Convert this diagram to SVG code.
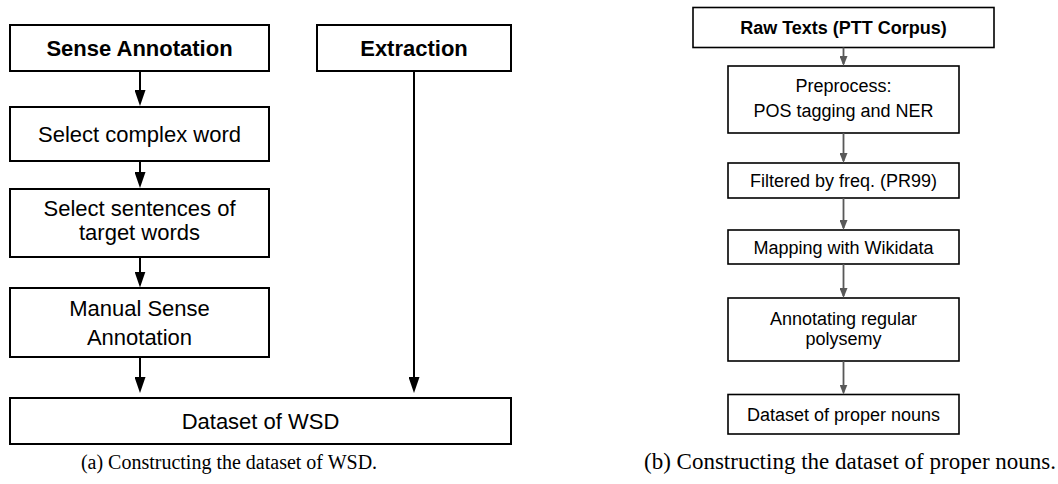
<svg xmlns="http://www.w3.org/2000/svg" width="1058" height="484" viewBox="0 0 1058 484">
<style>
  .box { fill: #ffffff; stroke: #000000; stroke-width: 2; }
  .boxb { fill: #ffffff; stroke: #000000; stroke-width: 1.6; }
  .lt { font-family: "Liberation Sans", Arial, sans-serif; font-size: 22px; fill: #000000; text-anchor: middle; }
  .rt { font-family: "Liberation Sans", Arial, sans-serif; font-size: 18px; fill: #000000; text-anchor: middle; }
  .bold { font-weight: bold; }
  .cap { font-family: "Liberation Serif", "Times New Roman", serif; fill: #000000; }
  .edgeA { stroke: #000000; stroke-width: 2; fill: none; marker-end: url(#headA); }
  .edgeB { stroke: #595959; stroke-width: 1.8; fill: none; marker-end: url(#headB); }
</style>
<defs>
  <marker id="headA" viewBox="0 0 16 11" refX="13" refY="5.5" markerWidth="16" markerHeight="11" markerUnits="userSpaceOnUse" orient="auto">
    <path d="M0,0 L16,5.5 L0,11 z" fill="#000000"/>
  </marker>
  <marker id="headB" viewBox="0 0 10 8" refX="8" refY="4" markerWidth="10" markerHeight="8" markerUnits="userSpaceOnUse" orient="auto">
    <path d="M0,0 L10,4 L0,8 z" fill="#595959"/>
  </marker>
</defs>
<rect width="1058" height="484" fill="#ffffff"/>

<!-- (a) left panel -->
<g id="sense-annotation">
  <rect class="box" x="10" y="25" width="259" height="46"/>
  <text class="lt bold" x="139.5" y="56">Sense Annotation</text>
</g>
<g id="extraction">
  <rect class="box" x="317" y="25" width="194" height="46"/>
  <text class="lt bold" x="414" y="56">Extraction</text>
</g>
<g id="select-complex-word">
  <rect class="box" x="10" y="107" width="259" height="54"/>
  <text class="lt" x="139.5" y="142">Select complex word</text>
</g>
<g id="select-sentences">
  <rect class="box" x="10" y="189" width="259" height="68"/>
  <text class="lt" x="139.5" y="216">Select sentences of</text>
  <text class="lt" x="139.5" y="240">target words</text>
</g>
<g id="manual-sense-annotation">
  <rect class="box" x="10" y="288" width="259" height="69"/>
  <text class="lt" x="139.5" y="316">Manual Sense</text>
  <text class="lt" x="139.5" y="345">Annotation</text>
</g>
<g id="dataset-wsd">
  <rect class="box" x="10" y="398" width="501" height="46"/>
  <text class="lt" x="260.5" y="429">Dataset of WSD</text>
</g>

<!-- (b) right panel -->
<g id="raw-texts">
  <rect class="boxb" x="693" y="7.5" width="301" height="40"/>
  <text class="rt bold" x="843.5" y="34">Raw Texts (PTT Corpus)</text>
</g>
<g id="preprocess">
  <rect class="boxb" x="728" y="66" width="231" height="67"/>
  <text class="rt" x="843.5" y="92">Preprocess:</text>
  <text class="rt" x="843.5" y="116.5">POS tagging and NER</text>
</g>
<g id="filtered">
  <rect class="boxb" x="728" y="163" width="231" height="35"/>
  <text class="rt" x="843.5" y="187">Filtered by freq. (PR99)</text>
</g>
<g id="mapping">
  <rect class="boxb" x="728" y="230" width="231" height="34"/>
  <text class="rt" x="843.5" y="253.5">Mapping with Wikidata</text>
</g>
<g id="annotating">
  <rect class="boxb" x="728" y="298" width="231" height="63"/>
  <text class="rt" x="843.5" y="325">Annotating regular</text>
  <text class="rt" x="843.5" y="345">polysemy</text>
</g>
<g id="dataset-proper-nouns">
  <rect class="boxb" x="728" y="394.5" width="231" height="39.5"/>
  <text class="rt" x="843.5" y="420.5">Dataset of proper nouns</text>
</g>

<!-- connectors -->
<g id="connectors">
  <line class="edgeA" x1="140" y1="71" x2="140" y2="103"/>
  <line class="edgeA" x1="140" y1="161" x2="140" y2="185"/>
  <line class="edgeA" x1="140" y1="257" x2="140" y2="284.5"/>
  <line class="edgeA" x1="140" y1="357" x2="140" y2="390"/>
  <line class="edgeA" x1="414" y1="71" x2="414" y2="390"/>
  <line class="edgeB" x1="843.5" y1="47.5" x2="843.5" y2="64"/>
  <line class="edgeB" x1="843.5" y1="133" x2="843.5" y2="161"/>
  <line class="edgeB" x1="843.5" y1="198" x2="843.5" y2="228"/>
  <line class="edgeB" x1="843.5" y1="264" x2="843.5" y2="296"/>
  <line class="edgeB" x1="843.5" y1="361" x2="843.5" y2="392.5"/>
</g>

<!-- captions -->
<text class="cap" x="229" y="469" font-size="20" text-anchor="middle">(a) Constructing the dataset of WSD.</text>
<text class="cap" x="1056" y="469" font-size="23" text-anchor="end">(b) Constructing the dataset of proper nouns.</text>
</svg>
